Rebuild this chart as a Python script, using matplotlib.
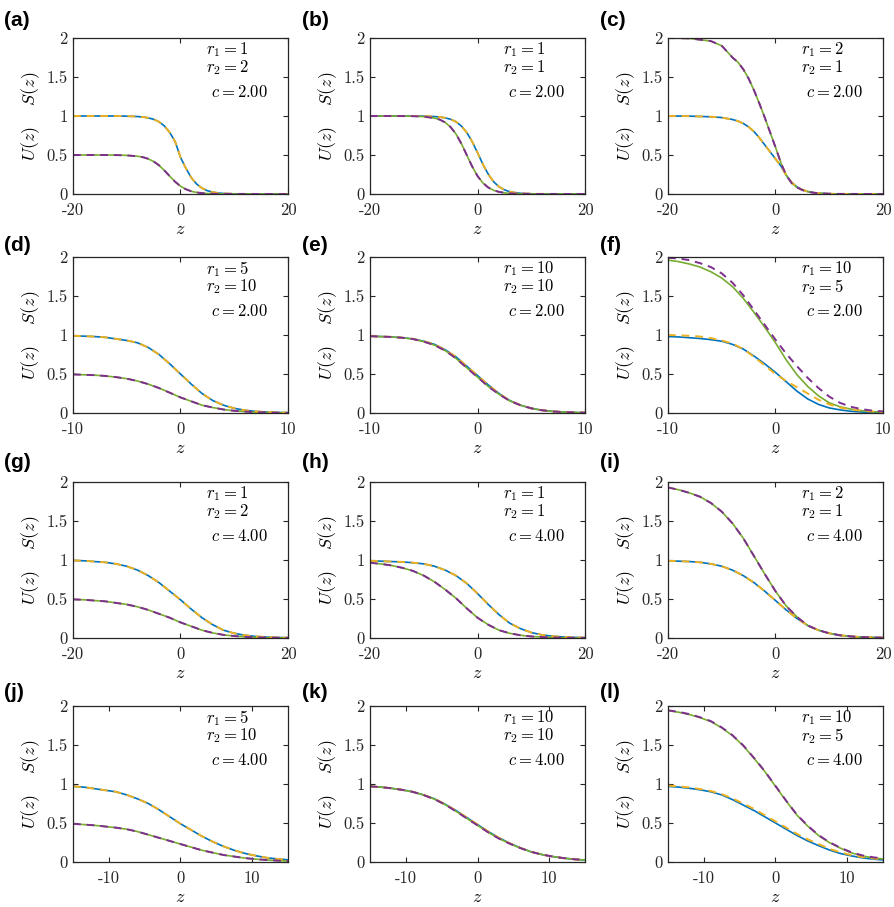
import matplotlib
matplotlib.use("Agg")
import matplotlib.pyplot as plt

plt.rcParams["mathtext.fontset"] = "cm"
plt.rcParams["font.family"] = "serif"
plt.rcParams["font.serif"] = ["cmr10", "DejaVu Serif"]
plt.rcParams["axes.formatter.use_mathtext"] = True
plt.rcParams["axes.unicode_minus"] = False

# z grids (the steep fronts of row 1 are sampled more densely near z = 0)
z20f = [-20, -16, -12, -10, -8, -7, -6, -5, -4, -3, -2, -1, 0, 1, 2, 3, 4, 5, 6, 7, 8, 10, 12, 16, 20]
z20 = [-20, -18, -16, -14, -12, -10, -8, -6, -4, -2, 0, 2, 4, 6, 8, 10, 12, 14, 16, 18, 20]
z10 = [-10, -9, -8, -7, -6, -5, -4, -3, -2, -1, 0, 1, 2, 3, 4, 5, 6, 7, 8, 9, 10]
z15 = [-15, -13.5, -12, -10.5, -9, -7.5, -6, -4.5, -3, -1.5, 0, 1.5, 3, 4.5, 6, 7.5, 9, 10.5, 12, 13.5, 15]

panel_letters = ["(a)", "(b)", "(c)", "(d)", "(e)", "(f)", "(g)", "(h)", "(i)", "(j)", "(k)", "(l)"]
r1_vals = [1, 1, 2, 5, 10, 10, 1, 1, 2, 5, 10, 10]
r2_vals = [2, 1, 1, 10, 10, 5, 2, 1, 1, 10, 10, 5]
c_vals = [2.00, 2.00, 2.00, 2.00, 2.00, 2.00, 4.00, 4.00, 4.00, 4.00, 4.00, 4.00]

# (a) r1=1 r2=2 c=2
u_a = [1.0, 1.0, 1.0, 0.998, 0.993, 0.987, 0.976, 0.958, 0.926, 0.872, 0.789, 0.673, 0.47, 0.33, 0.21,
	0.128, 0.075, 0.042, 0.024, 0.013, 0.007, 0.002, 0.001, 0, 0]
s_a = [0.5, 0.5, 0.499, 0.495, 0.484, 0.472, 0.451, 0.417, 0.368, 0.302, 0.228, 0.157, 0.1, 0.061, 0.035,
	0.02, 0.011, 0.006, 0.003, 0.002, 0.001, 0, 0, 0, 0]
# (b) r1=1 r2=1 c=2
u_b = [1.0, 1.0, 1.0, 0.998, 0.993, 0.987, 0.976, 0.958, 0.926, 0.872, 0.789, 0.673, 0.53, 0.382, 0.254,
	0.157, 0.093, 0.053, 0.03, 0.017, 0.009, 0.003, 0.001, 0, 0]
s_b = [1.0, 1.0, 0.998, 0.992, 0.973, 0.953, 0.917, 0.858, 0.769, 0.646, 0.5, 0.354, 0.231, 0.142, 0.083,
	0.047, 0.027, 0.015, 0.008, 0.005, 0.003, 0.001, 0, 0, 0]
# (c) r1=2 r2=1 c=2
u_c = [1.0, 0.998, 0.99, 0.98, 0.955, 0.935, 0.905, 0.86, 0.8, 0.72, 0.63, 0.54, 0.45, 0.36, 0.24,
	0.15, 0.09, 0.055, 0.032, 0.018, 0.01, 0.003, 0.001, 0, 0]
s_c = [2.0, 1.995, 1.96, 1.9, 1.75, 1.69, 1.6, 1.48, 1.33, 1.16, 0.98, 0.79, 0.6, 0.4, 0.24,
	0.14, 0.085, 0.05, 0.03, 0.017, 0.01, 0.003, 0.001, 0, 0]
# (d) r1=5 r2=10 c=2
u_d = [0.99, 0.985, 0.98, 0.97, 0.95, 0.93, 0.9, 0.84, 0.75, 0.63, 0.5, 0.37, 0.25, 0.16, 0.1, 0.06, 0.035, 0.02, 0.012, 0.007, 0.004]
s_d = [0.495, 0.49, 0.485, 0.475, 0.46, 0.44, 0.41, 0.37, 0.32, 0.26, 0.2, 0.15, 0.1, 0.07, 0.045, 0.028, 0.018, 0.011, 0.007, 0.004, 0.002]
# (e) r1=10 r2=10 c=2
u_e = [0.985, 0.98, 0.975, 0.965, 0.95, 0.92, 0.88, 0.81, 0.72, 0.6, 0.48, 0.36, 0.25, 0.16, 0.1, 0.06, 0.035, 0.02, 0.012, 0.007, 0.004]
s_e = [0.985, 0.98, 0.975, 0.965, 0.948, 0.915, 0.87, 0.8, 0.7, 0.58, 0.46, 0.34, 0.24, 0.155, 0.1, 0.06, 0.035, 0.02, 0.012, 0.007, 0.004]
# (f) r1=10 r2=5 c=2 (solid and dashed differ)
u_f = [0.98, 0.975, 0.965, 0.955, 0.94, 0.92, 0.88, 0.82, 0.73, 0.63, 0.52, 0.4, 0.28, 0.18, 0.11, 0.065, 0.04, 0.022, 0.013, 0.008, 0.005]
s_f = [1.96, 1.94, 1.91, 1.87, 1.81, 1.73, 1.62, 1.47, 1.29, 1.1, 0.9, 0.68, 0.49, 0.34, 0.22, 0.13, 0.08, 0.05, 0.03, 0.017, 0.01]
ud_f = [1.0, 0.995, 0.99, 0.98, 0.96, 0.93, 0.89, 0.82, 0.72, 0.61, 0.5, 0.41, 0.33, 0.25, 0.17, 0.11, 0.07, 0.045, 0.03, 0.02, 0.012]
sd_f = [1.99, 1.98, 1.96, 1.92, 1.87, 1.79, 1.67, 1.51, 1.32, 1.13, 0.94, 0.76, 0.6, 0.45, 0.32, 0.21, 0.13, 0.08, 0.05, 0.03, 0.02]
# (g) r1=1 r2=2 c=4
u_g = [0.995, 0.99, 0.98, 0.97, 0.95, 0.92, 0.87, 0.8, 0.71, 0.6, 0.49, 0.37, 0.26, 0.17, 0.1, 0.06, 0.035, 0.02, 0.012, 0.007, 0.004]
s_g = [0.495, 0.49, 0.48, 0.47, 0.45, 0.43, 0.4, 0.36, 0.31, 0.26, 0.2, 0.15, 0.1, 0.065, 0.04, 0.025, 0.015, 0.009, 0.005, 0.003, 0.002]
# (h) r1=1 r2=1 c=4
u_h = [0.99, 0.985, 0.98, 0.975, 0.965, 0.95, 0.92, 0.87, 0.8, 0.7, 0.57, 0.43, 0.3, 0.19, 0.12, 0.07, 0.04, 0.023, 0.013, 0.008, 0.005]
s_h = [0.965, 0.95, 0.93, 0.9, 0.86, 0.8, 0.72, 0.62, 0.51, 0.38, 0.26, 0.17, 0.1, 0.06, 0.035, 0.02, 0.012, 0.007, 0.004, 0.002, 0.001]
# (i) r1=2 r2=1 c=4
u_i = [0.99, 0.985, 0.98, 0.97, 0.95, 0.92, 0.87, 0.8, 0.71, 0.6, 0.48, 0.36, 0.25, 0.16, 0.1, 0.06, 0.035, 0.02, 0.012, 0.007, 0.004]
s_i = [1.93, 1.9, 1.86, 1.81, 1.73, 1.62, 1.47, 1.28, 1.05, 0.82, 0.6, 0.41, 0.27, 0.16, 0.1, 0.06, 0.035, 0.02, 0.012, 0.007, 0.004]
# (j) r1=5 r2=10 c=4
u_j = [0.97, 0.96, 0.94, 0.92, 0.9, 0.86, 0.81, 0.75, 0.67, 0.58, 0.49, 0.41, 0.33, 0.26, 0.2, 0.15, 0.11, 0.08, 0.055, 0.04, 0.028]
s_j = [0.49, 0.48, 0.47, 0.455, 0.44, 0.42, 0.39, 0.35, 0.31, 0.27, 0.23, 0.19, 0.15, 0.12, 0.09, 0.07, 0.05, 0.036, 0.026, 0.018, 0.013]
# (k) r1=10 r2=10 c=4
u_k = [0.97, 0.96, 0.945, 0.925, 0.9, 0.86, 0.81, 0.74, 0.66, 0.57, 0.48, 0.39, 0.31, 0.24, 0.18, 0.13, 0.095, 0.07, 0.05, 0.035, 0.025]
s_k = [0.97, 0.96, 0.945, 0.925, 0.898, 0.857, 0.805, 0.735, 0.65, 0.56, 0.47, 0.38, 0.3, 0.235, 0.178, 0.13, 0.095, 0.07, 0.05, 0.035, 0.025]
# (l) r1=10 r2=5 c=4
u_l = [0.97, 0.96, 0.945, 0.925, 0.9, 0.86, 0.8, 0.73, 0.66, 0.58, 0.5, 0.42, 0.34, 0.27, 0.21, 0.155, 0.11, 0.08, 0.055, 0.038, 0.026]
s_l = [1.94, 1.92, 1.89, 1.85, 1.8, 1.72, 1.62, 1.49, 1.33, 1.16, 0.97, 0.78, 0.6, 0.46, 0.34, 0.25, 0.18, 0.12, 0.08, 0.055, 0.038]
ud_l = [0.98, 0.97, 0.955, 0.935, 0.91, 0.87, 0.815, 0.75, 0.68, 0.6, 0.52, 0.44, 0.36, 0.29, 0.23, 0.17, 0.125, 0.09, 0.065, 0.047, 0.035]
sd_l = [1.945, 1.925, 1.895, 1.855, 1.805, 1.725, 1.625, 1.495, 1.335, 1.165, 0.975, 0.785, 0.605, 0.465, 0.345, 0.255, 0.185, 0.128, 0.087, 0.062, 0.045]

z_grids = [z20f, z20f, z20f, z10, z10, z10, z20, z20, z20, z15, z15, z15]
u_solid = [u_a, u_b, u_c, u_d, u_e, u_f, u_g, u_h, u_i, u_j, u_k, u_l]
s_solid = [s_a, s_b, s_c, s_d, s_e, s_f, s_g, s_h, s_i, s_j, s_k, s_l]
u_dash = [u_a, u_b, u_c, u_d, u_e, ud_f, u_g, u_h, u_i, u_j, u_k, ud_l]
s_dash = [s_a, s_b, s_c, s_d, s_e, sd_f, s_g, s_h, s_i, s_j, s_k, sd_l]

xlims = [20, 20, 20, 10, 10, 10, 20, 20, 20, 15, 15, 15]
xticks = [[-20, 0, 20], [-20, 0, 20], [-20, 0, 20], [-10, 0, 10], [-10, 0, 10], [-10, 0, 10],
	[-20, 0, 20], [-20, 0, 20], [-20, 0, 20], [-10, 0, 10], [-10, 0, 10], [-10, 0, 10]]
yticks = [0, 0.5, 1, 1.5, 2]
ytick_labels = ["0", "0.5", "1", "1.5", "2"]

BLUE = "#0072BD"
YELLOW = "#EDB120"
GREEN = "#77AC30"
PURPLE = "#7E2F8E"

W, H = 895, 907
col_left = [73, 370, 668]
row_top = [38, 257, 482, 706]
ax_w, ax_h = 215, 156
label_x = [4, 302, 600]
label_y = [20, 245, 463, 693]


def draw_panel(ax, k):
	z = z_grids[k]
	ax.plot(z, u_solid[k], color=BLUE, lw=1.2)
	ax.plot(z, s_solid[k], color=GREEN, lw=1.2)
	ax.plot(z, u_dash[k], color=YELLOW, lw=1.4, dashes=(4, 3))
	ax.plot(z, s_dash[k], color=PURPLE, lw=1.4, dashes=(4, 3))

	ax.set_xlim(-xlims[k], xlims[k])
	ax.set_ylim(0, 2)
	ax.set_xticks(xticks[k])
	ax.set_xticklabels([str(t) for t in xticks[k]], fontsize=12)
	ax.set_yticks(yticks)
	ax.set_yticklabels(ytick_labels, fontsize=12)
	ax.tick_params(direction="in", top=True, right=True, length=3.5, width=0.8, colors="#262626")
	ax.tick_params(axis="x", pad=6)
	ax.tick_params(axis="y", pad=4)
	for sp in ax.spines.values():
		sp.set_linewidth(0.9)
		sp.set_color("#262626")

	ax.set_xlabel(r"$z$", fontsize=13, labelpad=3)
	ax.set_ylabel(r"$U(z)\quad\ S(z)$", fontsize=13, labelpad=3)

	ax.text(0.62, 0.925, r"$r_1 = %d$" % r1_vals[k], transform=ax.transAxes, fontsize=12, va="center")
	ax.text(0.62, 0.81, r"$r_2 = %d$" % r2_vals[k], transform=ax.transAxes, fontsize=12, va="center")
	ax.text(0.64, 0.655, r"$c = %.2f$" % c_vals[k], transform=ax.transAxes, fontsize=12, va="center")


def main():
	fig = plt.figure(figsize=(W / 100, H / 100), dpi=100)
	for k in range(12):
		row, col = divmod(k, 3)
		left = col_left[col] / W
		bottom = 1 - (row_top[row] + ax_h) / H
		ax = fig.add_axes([left, bottom, ax_w / W, ax_h / H])
		draw_panel(ax, k)
		fig.text(label_x[col] / W, 1 - label_y[row] / H, panel_letters[k], fontsize=15,
			fontweight="bold", family="Liberation Sans", va="center", ha="left")

	fig.savefig("out.png", dpi=100)


if __name__ == "__main__":
	main()
